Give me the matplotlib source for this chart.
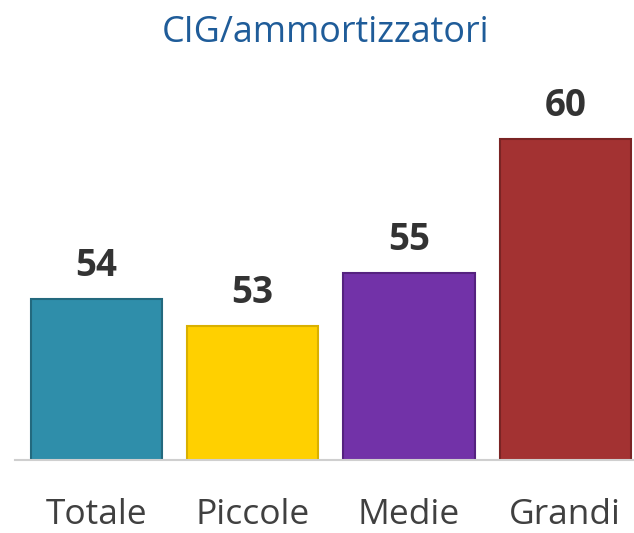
import matplotlib.pyplot as plt

categories = ["Totale", "Piccole", "Medie", "Grandi"]
values = [54, 53, 55, 60]
colors = ["#2F8EAA", "#FFD000", "#7232A8", "#A33232"]
edges = ["#23697E", "#D9B000", "#55227F", "#7A2424"]

plt.rcParams['font.family'] = ['Open Sans', 'DejaVu Sans']

fig = plt.figure(figsize=(6.34, 5.33), dpi=100)
W, H = 634, 533
left, right = 15, 634
bottom, top = 460, 100
ax = fig.add_axes([left / W, (H - bottom) / H, (right - left) / W, (bottom - top) / H])

x = range(len(categories))
ax.bar(x, values, width=0.84, color=colors, edgecolor=edges, linewidth=1.5, zorder=2)
ax.set_ylim(48, 61.45)
ax.set_xlim(-0.52, 3.44)

for xi, v in zip(x, values):
    ax.annotate(str(v), (xi, v), xytext=(0, 16.5), textcoords='offset points',
                ha='center', va='baseline', fontsize=26.5, fontweight='bold', color='#333333')

for xi, c in zip(x, categories):
    ax.annotate(c, (xi, 0), xycoords=('data', 'axes fraction'), xytext=(0, -46.0),
                textcoords='offset points', ha='center', va='baseline',
                fontsize=25.5, color='#404040')

for s in ['top', 'right', 'left']:
    ax.spines[s].set_visible(False)
ax.spines['bottom'].set_color('#CFCFCF')
ax.spines['bottom'].set_linewidth(1.5)
ax.set_yticks([])
ax.set_xticks([])

fig.text(163 / W + 325 / 2 / W, 1 - 42 / H, "CIG/ammortizzatori", ha='center', va='baseline',
         fontsize=25.8, color='#1F5C99')

fig.savefig("out.png", dpi=100)
